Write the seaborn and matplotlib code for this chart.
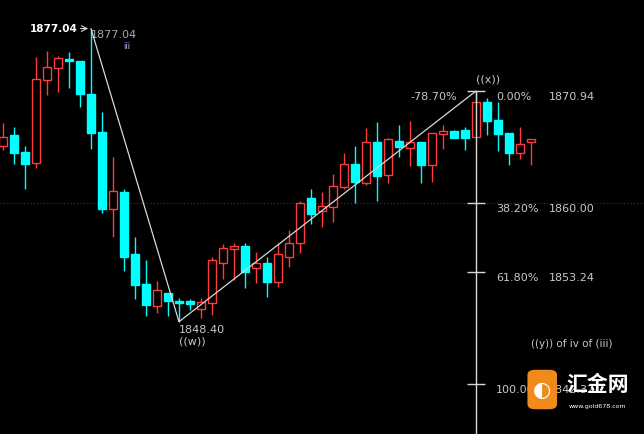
import matplotlib
matplotlib.use("Agg")
import matplotlib.pyplot as plt
import seaborn as sns
import numpy as np
from matplotlib.patches import FancyBboxPatch

sns.set_style("dark")
plt.rcParams['font.family'] = ['DejaVu Sans', 'Noto Sans CJK SC']

opens  = [1865.57,1866.64,1864.98,1863.90,1872.01,1873.19,1874.07,1873.87,1870.65,1866.93,
          1859.41,1861.07,1855.01,1852.08,1849.93,1851.20,1850.42,1850.42,1849.64,1850.23,
          1854.13,1855.50,1855.80,1853.65,1854.13,1852.28,1854.72,1856.09,1860.49,1859.22,
          1859.61,1861.56,1863.81,1861.95,1865.96,1862.73,1866.05,1865.37,1865.96,1863.71,
          1866.74,1867.03,1867.13,1866.45,1869.86,1868.11,1866.84,1864.88,1865.96]
closes = [1866.45,1864.88,1863.81,1872.11,1873.28,1874.16,1873.87,1870.65,1866.84,1859.41,
          1861.17,1854.72,1851.99,1850.03,1851.50,1850.42,1850.23,1850.13,1850.32,1854.43,
          1855.60,1855.80,1853.26,1854.13,1852.28,1855.01,1856.09,1859.99,1858.92,1859.70,
          1861.66,1863.81,1862.05,1865.96,1862.63,1866.25,1865.47,1865.96,1863.71,1866.84,
          1867.03,1866.35,1866.35,1869.86,1868.01,1866.74,1864.88,1865.76,1866.25]
highs  = [1867.81,1867.42,1865.57,1874.26,1874.85,1874.36,1874.75,1873.87,1877.04,1868.89,
          1864.49,1861.36,1856.67,1854.43,1852.38,1851.20,1850.72,1850.62,1850.72,1854.72,
          1855.99,1856.09,1856.09,1855.21,1854.72,1856.09,1857.36,1860.19,1861.36,1861.07,
          1862.83,1864.88,1865.57,1867.32,1867.91,1866.35,1867.62,1868.01,1865.96,1866.84,
          1867.62,1867.13,1867.42,1870.94,1870.26,1869.86,1866.84,1867.42,1866.25]
lows   = [1865.17,1863.81,1861.36,1863.42,1870.55,1870.84,1871.23,1869.38,1865.27,1859.02,
          1856.67,1853.35,1850.62,1848.96,1849.25,1848.96,1848.40,1849.54,1848.76,1849.06,
          1852.57,1852.47,1851.69,1852.18,1850.81,1851.79,1853.74,1855.11,1857.95,1857.65,
          1858.14,1861.36,1859.99,1861.76,1860.19,1861.95,1864.49,1863.61,1861.95,1862.05,
          1865.27,1866.35,1865.17,1866.45,1866.64,1865.08,1863.71,1864.30,1863.71]

wave_idx = [8, 16, 43]
wave_px = [1877.04, 1848.40, 1870.94]
fib_pct = ["0.00%", "38.20%", "61.80%", "100.00%"]
fib_px = [1870.94, 1860.00, 1853.24, 1842.32]

UP = "#ff3b3b"; DN = "#00ffff"; TXT = "#c8c8c8"

fig = plt.figure(figsize=(6.44, 4.34), dpi=100, facecolor="black")
ax = fig.add_axes([0, 0, 1, 1])
ax.set_facecolor("black")
ax.set_xlim(-0.27, 58.27)
ax.set_ylim(1837.43, 1879.83)
ax.axis("off")

x = np.arange(len(opens))
for i in x:
    o, c, h, l = opens[i], closes[i], highs[i], lows[i]
    col = UP if c > o else DN
    lo, hi = min(o, c), max(o, c)
    ax.vlines(i, l, lo, color=col, lw=1, zorder=2)
    ax.vlines(i, hi, h, color=col, lw=1, zorder=2)
    hgt = max(hi - lo, 0.2)
    if c > o:
        ax.bar(i, hgt, bottom=lo, width=0.72, facecolor="black", edgecolor=col, lw=1, zorder=3)
    else:
        ax.bar(i, hgt, bottom=lo, width=0.72, facecolor=col, edgecolor=col, lw=1, zorder=3)

ax.axhline(1860.0, color="#8b1a1a", lw=0.8, ls=(0, (1, 2)), zorder=1)
ax.plot(wave_idx, wave_px, color="#d8d8d8", lw=0.9, zorder=4)

fx = wave_idx[2]
ax.vlines(fx, 1837.43, fib_px[0], color="#d8d8d8", lw=1, zorder=4)
for p, lab in zip(fib_px, fib_pct):
    ax.hlines(p, fx - 0.85, fx + 0.85, color="#d8d8d8", lw=1, zorder=4)
    ax.text(fx + 1.8, p - 0.6, lab, color=TXT, fontsize=8, va="center", ha="left")
    ax.text(fx + 6.6, p - 0.6, f"{p:.2f}", color=TXT, fontsize=8, va="center", ha="left")
ax.text(fx - 1.7, fib_px[0] - 0.6, "-78.70%", color=TXT, fontsize=8, va="center", ha="right")
ax.text(fx + 1.1, fib_px[0] + 1.1, "((x))", color=TXT, fontsize=8, va="center", ha="center")

ax.annotate("", xy=(8, 1877.04), xytext=(6.8, 1877.04),
            arrowprops=dict(arrowstyle="->", color="#d8d8d8", lw=0.8))
ax.text(6.8, 1877.04, "1877.04", color="white", fontsize=7.5, weight="bold", va="center", ha="right")
ax.text(8.0, 1876.4, "1877.04", color="#a8a8a8", fontsize=8, va="center", ha="left")
ax.text(11.3, 1875.3, "iii", color="#a8b8ff", fontsize=6, va="center", ha="center")
ax.text(16.0, 1847.6, "1848.40", color=TXT, fontsize=8, va="center", ha="left")
ax.text(16.0, 1846.5, "((w))", color=TXT, fontsize=8, va="center", ha="left")
ax.text(48.0, 1846.2, "((y)) of iv of (iii)", color=TXT, fontsize=7.5, va="center", ha="left")

# logo
logo = FancyBboxPatch((0.822, 0.06), 0.04, 0.085, boxstyle="round,pad=0.003,rounding_size=0.012",
                      transform=ax.transAxes, facecolor="#f08a1c", edgecolor="none", zorder=6)
ax.add_patch(logo)
ax.text(0.842, 0.102, "◐", transform=ax.transAxes, color="white", fontsize=15, ha="center", va="center", zorder=7)
ax.text(0.928, 0.115, "汇金网", transform=ax.transAxes, color="white", fontsize=15, weight="bold",
        ha="center", va="center", family=["Noto Sans CJK SC", "DejaVu Sans"], zorder=7)
ax.text(0.928, 0.064, "www.gold678.com", transform=ax.transAxes, color="white", fontsize=4.5,
        ha="center", va="center", zorder=7)

fig.savefig("out.png", dpi=100, facecolor="black")
